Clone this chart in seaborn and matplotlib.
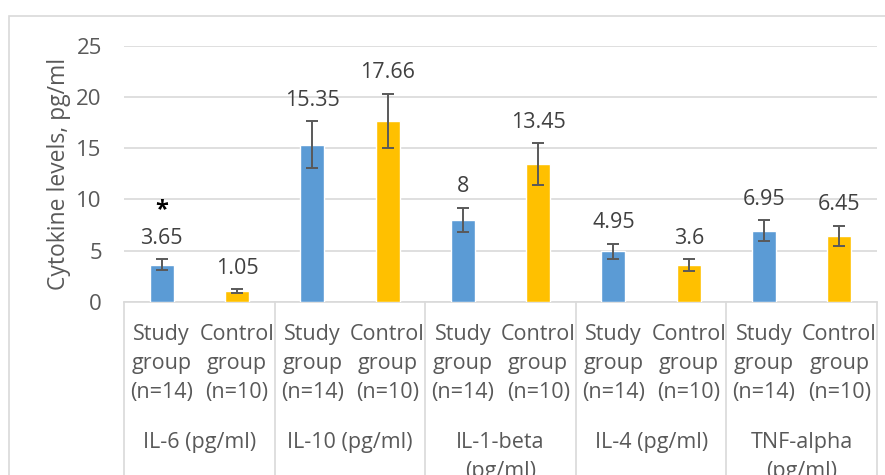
import matplotlib.pyplot as plt
import seaborn as sns
import pandas as pd
from matplotlib.patches import Rectangle
from matplotlib.lines import Line2D
from matplotlib.transforms import blended_transform_factory

# ---- data ----
cytokines = ["IL-6 (pg/ml)", "IL-10 (pg/ml)", "IL-1-beta\n(pg/ml)",
             "IL-4 (pg/ml)", "TNF-alpha\n(pg/ml)"]
groups = ["Study\ngroup\n(n=14)", "Control\ngroup\n(n=10)"]
study_means = [3.65, 15.35, 8, 4.95, 6.95]
control_means = [1.05, 17.66, 13.45, 3.6, 6.45]
study_err = [0.55, 2.3, 1.2, 0.75, 1.05]
control_err = [0.2, 2.65, 2.0, 0.55, 1.0]
star_bars = [0]   # bar index marked with "*"

BLUE = "#5B9BD5"
GOLD = "#FFC000"
GRID = "#D9D9D9"
TXT = "#595959"
FS = 15.5

sns.set_theme(style="white")
plt.rcParams['font.family'] = ['Open Sans', 'DejaVu Sans']

rows = []
for i, cyt in enumerate(cytokines):
    rows.append({"key": f"{i}s", "cytokine": cyt, "group": groups[0],
                 "value": study_means[i], "err": study_err[i]})
    rows.append({"key": f"{i}c", "cytokine": cyt, "group": groups[1],
                 "value": control_means[i], "err": control_err[i]})
df = pd.DataFrame(rows)
order = list(df["key"])

fig = plt.figure(figsize=(8.85, 4.75), dpi=100)
ax = fig.add_axes([124 / 885, 1 - 302 / 475, 753 / 885, 256.5 / 475])

sns.barplot(data=df, x="key", y="value", hue="group", order=order,
            hue_order=groups, palette=[BLUE, GOLD], dodge=False, width=0.32,
            errorbar=None, legend=False, saturation=1, ax=ax, zorder=3)

xs = list(range(len(df)))
ax.errorbar(xs, df["value"], yerr=df["err"], fmt="none", ecolor=TXT,
            elinewidth=1.4, capsize=4.5, capthick=1.4, zorder=4)

# value labels above error bars
for x, v, e in zip(xs, df["value"], df["err"]):
    ax.annotate(f"{v:g}", (x, v + e), xytext=(0, 15), textcoords="offset points",
                ha="center", va="center", fontsize=FS, color="#404040")
for b in star_bars:
    v = df["value"].iloc[b] + df["err"].iloc[b]
    ax.annotate("*", (b, v), xytext=(0, 35), textcoords="offset points",
                ha="center", va="center", fontsize=17, fontweight="bold",
                color="black")

ax.set_xlim(-0.5, len(df) - 0.5)
ax.set_ylim(0, 25)
ax.set_yticks(range(0, 26, 5))
ax.yaxis.grid(True, color=GRID, lw=1.2, zorder=0)
ax.set_axisbelow(True)
for s in ["top", "right", "left"]:
    ax.spines[s].set_visible(False)
ax.spines["bottom"].set_color(GRID)
ax.spines["bottom"].set_linewidth(1.2)

ax.set_xticks(xs)
ax.set_xticklabels([g for _ in cytokines for g in groups], linespacing=1.52)
ax.tick_params(axis="x", length=0, pad=15.5, labelsize=FS, labelcolor=TXT)
ax.tick_params(axis="y", length=0, pad=16, labelsize=16, labelcolor=TXT)
ax.set_xlabel("")
ax.set_ylabel("Cytokine levels, pg/ml", fontsize=16.5, color=TXT, labelpad=4)

# group labels and separators of the two-level category axis
trans = blended_transform_factory(ax.transData, ax.transAxes)
for i, cyt in enumerate(cytokines):
    ax.text(2 * i + 0.5, -0.505, cyt, transform=trans, ha="center", va="top",
            fontsize=FS, color=TXT, linespacing=1.5, clip_on=False)
for i in range(len(cytokines) + 1):
    ax.add_line(Line2D([2 * i - 0.5] * 2, [0, -1], transform=trans,
                       color=GRID, lw=1.2, clip_on=False))

# outer chart border (extends past the cropped right/bottom edges)
fig.patches.append(Rectangle((9 / 885, -0.2), 1.2, 0.2 + 1 - 15.5 / 475,
                             transform=fig.transFigure, fill=False,
                             edgecolor=GRID, lw=1.2))

fig.savefig("out.png", dpi=100)
